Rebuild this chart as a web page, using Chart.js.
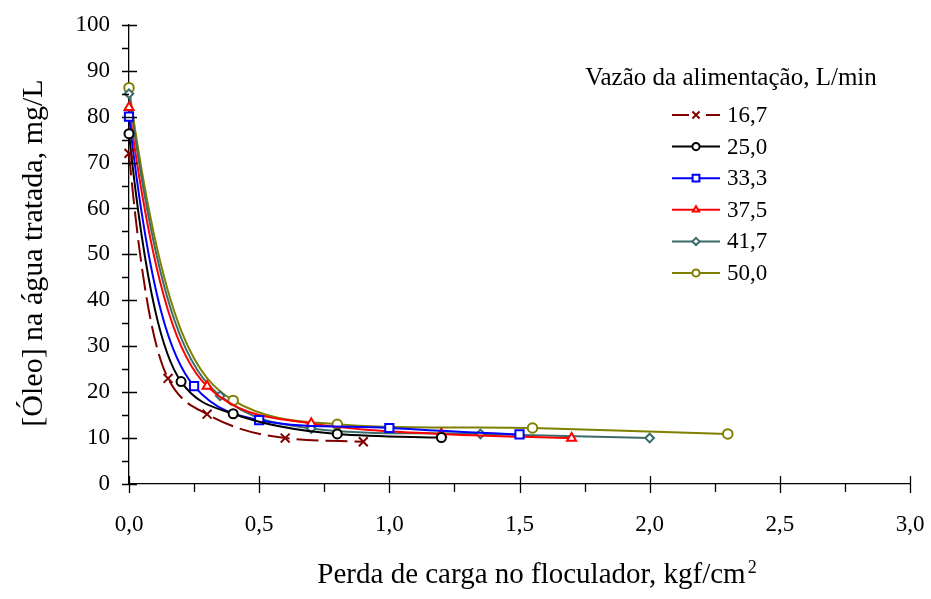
<!DOCTYPE html>
<html>
<head>
<meta charset="utf-8">
<script src="https://cdn.jsdelivr.net/npm/chart.js@4/dist/chart.umd.min.js"></script>
<style>
  html, body { margin: 0; padding: 0; background: #fff; }
  #wrap { width: 931px; height: 599px; position: relative; }
</style>
</head>
<body>
<div id="wrap"><canvas id="graf"></canvas></div>
<script>
"use strict";

// vazão da alimentação, L/min
const vazoes = ["16,7", "25,0", "33,3", "37,5", "41,7", "50,0"];

// perda de carga (kgf/cm2) e [óleo] (mg/L) por vazão
const x167 = [0, 0.15, 0.3, 0.6, 0.9];
const y167 = [72, 23, 15.2, 10, 9.2];
const x250 = [0, 0.2, 0.4, 0.8, 1.2];
const y250 = [76.3, 22.3, 15.3, 10.9, 10.1];
const x333 = [0, 0.25, 0.5, 1.0, 1.5];
const y333 = [80, 21.3, 13.9, 12.2, 10.8];
const x375 = [0, 0.3, 0.7, 1.2, 1.7];
const y375 = [82, 21.3, 13.2, 10.9, 10.0];
const x417 = [0, 0.35, 0.7, 1.35, 2.0];
const y417 = [85, 19.2, 12.1, 10.9, 10.0];
const x500 = [0, 0.4, 0.8, 1.55, 2.3];
const y500 = [86.3, 18.2, 13.0, 12.2, 10.9];

const xTicks = [0, 0.5, 1.0, 1.5, 2.0, 2.5, 3.0];
const yTicks = [0, 10, 20, 30, 40, 50, 60, 70, 80, 90, 100];

const FONTE = "'Liberation Serif', 'Times New Roman', serif";

function pontos(xs, ys) {
  return xs.map((x, i) => ({ x: x, y: ys[i] }));
}

const series = [
  { xs: x167, ys: y167, cor: "#800000", ponto: "crossRot", raio: 6.3, traco: [22, 7] },
  { xs: x250, ys: y250, cor: "#000000", ponto: "circle",   raio: 4.5, traco: [] },
  { xs: x333, ys: y333, cor: "#0000FF", ponto: "rect",     raio: 5.8, traco: [] },
  { xs: x375, ys: y375, cor: "#FF0000", ponto: "triangle", raio: 5.2, traco: [] },
  { xs: x417, ys: y417, cor: "#3B6B6B", ponto: "rectRot",  raio: 4.3, traco: [] },
  { xs: x500, ys: y500, cor: "#808000", ponto: "circle",   raio: 4.8, traco: [] }
];

const datasets = series.map((s, i) => ({
  label: vazoes[i],
  data: pontos(s.xs, s.ys),
  borderColor: s.cor,
  backgroundColor: "#FFFFFF",
  borderWidth: 2,
  borderDash: s.traco,
  tension: 0.4,
  pointStyle: s.ponto,
  pointRadius: s.raio,
  pointBorderColor: s.cor,
  pointBackgroundColor: "#FFFFFF",
  pointBorderWidth: 2,
  clip: false
}));

const virgula = v => Number(v).toFixed(1).replace(".", ",");

// suavização em forma de decaimento: tangentes de Hermite tiradas de
// exponenciais entre pontos vizinhos
const suavizar = {
  id: "suavizar",
  beforeDatasetDraw(chart, args) {
    const meta = args.meta;
    const linha = meta.dataset;
    const pts = meta.data;
    const dados = chart.data.datasets[args.index].data;
    const xs = chart.scales.x, ys = chart.scales.y;
    linha.updateControlPoints(chart.chartArea, "x");
    const n = dados.length;
    const c = Math.min(...dados.map(d => d.y)) - 2;
    const esq = [], dir = [];
    for (let k = 0; k < n - 1; k++) {
      const h = dados[k + 1].x - dados[k].x;
      const a = dados[k].y - c, b = dados[k + 1].y - c;
      const lam = Math.log(a / b) / h;
      esq.push(-lam * a);
      dir.push(-lam * b);
    }
    const m = [];
    for (let k = 0; k < n; k++) {
      if (k === 0) m.push(esq[0]);
      else if (k === n - 1) m.push(dir[n - 2]);
      else m.push((dir[k - 1] + esq[k]) / 2);
    }
    for (let k = 0; k < n; k++) {
      const d = dados[k];
      if (k < n - 1) {
        const h = dados[k + 1].x - d.x;
        pts[k].cp2x = xs.getPixelForValue(d.x + h / 3);
        pts[k].cp2y = ys.getPixelForValue(d.y + m[k] * h / 3);
      }
      if (k > 0) {
        const h = d.x - dados[k - 1].x;
        pts[k].cp1x = xs.getPixelForValue(d.x - h / 3);
        pts[k].cp1y = ys.getPixelForValue(d.y - m[k] * h / 3);
      }
    }
    linha._path = undefined;
  }
};

// marcas cruzando os eixos, marcas menores, títulos e legenda
const extras = {
  id: "extras",
  afterDraw(chart) {
    const ctx = chart.ctx;
    const xs = chart.scales.x, ys = chart.scales.y;
    const area = chart.chartArea;
    ctx.save();
    ctx.strokeStyle = "#000";
    ctx.lineWidth = 1.3;
    ctx.beginPath();
    yTicks.forEach(v => {
      const py = Math.round(ys.getPixelForValue(v)) + 0.5;
      ctx.moveTo(area.left - 7, py); ctx.lineTo(area.left + 8, py);
      if (v < 100) {
        const pm = Math.round(ys.getPixelForValue(v + 5)) + 0.5;
        ctx.moveTo(area.left - 7, pm); ctx.lineTo(area.left, pm);
      }
    });
    xTicks.forEach(v => {
      const px = Math.round(xs.getPixelForValue(v)) + 0.5;
      ctx.moveTo(px, area.bottom - 8); ctx.lineTo(px, area.bottom + 9);
      if (v < 3) {
        const pm = Math.round(xs.getPixelForValue(v + 0.25)) + 0.5;
        ctx.moveTo(pm, area.bottom); ctx.lineTo(pm, area.bottom + 8);
      }
    });
    ctx.stroke();

    // título eixo x com expoente
    ctx.fillStyle = "#000";
    ctx.textBaseline = "alphabetic";
    ctx.font = "29px " + FONTE;
    const txt = "Perda de carga no floculador, kgf/cm";
    const w1 = ctx.measureText(txt).width;
    ctx.font = "18px " + FONTE;
    const w2 = ctx.measureText("2").width;
    const x0 = 536 - (w1 + w2) / 2;
    ctx.font = "29px " + FONTE;
    ctx.textAlign = "left";
    ctx.fillText(txt, x0, 583);
    ctx.font = "18px " + FONTE;
    ctx.fillText("2", x0 + w1 + 2, 573);

    // título eixo y
    ctx.save();
    ctx.translate(42, 253);
    ctx.rotate(-Math.PI / 2);
    ctx.font = "30px " + FONTE;
    ctx.textAlign = "center";
    ctx.fillText("[Óleo] na água tratada, mg/L", 0, 0);
    ctx.restore();

    // legenda
    ctx.font = "25px " + FONTE;
    ctx.textAlign = "center";
    ctx.textBaseline = "middle";
    ctx.fillText("Vazão da alimentação, L/min", 731, 78);
    ctx.font = "23px " + FONTE;
    ctx.textAlign = "left";
    chart.data.datasets.forEach((ds, i) => {
      const py = 115 + i * 31.6;
      ctx.strokeStyle = ds.borderColor;
      ctx.lineWidth = 2;
      ctx.beginPath();
      if (i === 0) {
        ctx.moveTo(672, py); ctx.lineTo(689, py);
        ctx.moveTo(706, py); ctx.lineTo(720, py);
      } else {
        ctx.moveTo(672, py); ctx.lineTo(720, py);
      }
      ctx.stroke();
      ctx.fillStyle = "#FFFFFF";
      const r = ds.pointStyle === "rect" ? 4.8 : (ds.pointStyle === "crossRot" ? 5 : 3.6);
      Chart.helpers.drawPoint(ctx, {
        pointStyle: ds.pointStyle, radius: r, borderWidth: 2, rotation: 0
      }, 696, py);
      ctx.fillStyle = "#000";
      ctx.fillText(ds.label, 727, py + 1);
    });
    ctx.restore();
  }
};

new Chart(document.getElementById("graf").getContext("2d"), {
  type: "line",
  data: { datasets: datasets },
  plugins: [suavizar, extras],
  options: {
    responsive: true,
    maintainAspectRatio: false,
    animation: false,
    layout: { padding: { top: 15, right: 21, left: 0, bottom: 0 } },
    plugins: { legend: { display: false }, tooltip: { enabled: false } },
    scales: {
      x: {
        type: "linear", min: 0, max: 3,
        afterFit: s => { s.height = 115; s.paddingRight = 0; s.paddingLeft = 0; },
        afterBuildTicks: s => { s.ticks = xTicks.map(v => ({ value: v })); },
        grid: { display: false },
        border: { display: true, color: "#000", width: 1.3 },
        ticks: { callback: virgula, padding: 19, color: "#000", font: { family: FONTE, size: 23 }, maxRotation: 0 }
      },
      y: {
        min: 0, max: 100,
        afterFit: s => { s.width = 129; },
        afterBuildTicks: s => { s.ticks = yTicks.map(v => ({ value: v })); },
        grid: { display: false },
        border: { display: true, color: "#000", width: 1.3 },
        ticks: { padding: 11, color: "#000", font: { family: FONTE, size: 23 } }
      }
    }
  }
});
</script>
</body>
</html>
